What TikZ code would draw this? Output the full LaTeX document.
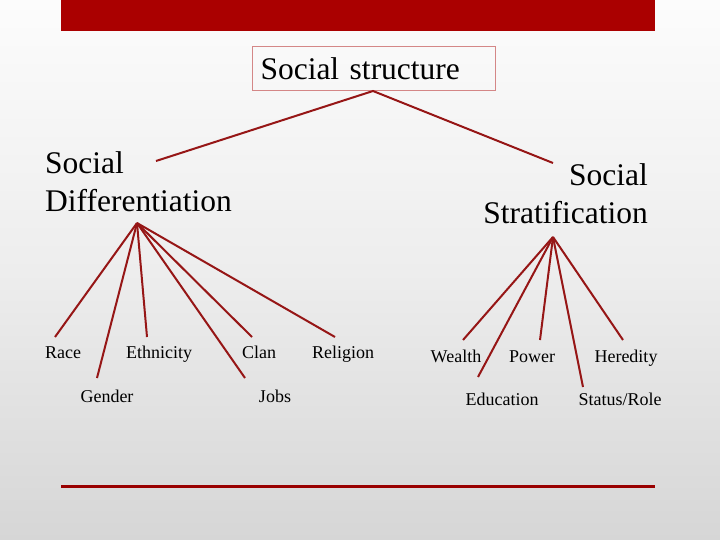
\documentclass[tikz,border=0pt]{standalone}
\usepackage{fontspec}
\setmainfont{Liberation Serif}
\definecolor{barred}{RGB}{170,0,0}
\definecolor{linered}{RGB}{150,22,22}
\definecolor{boxred}{RGB}{212,135,135}
\definecolor{bgtop}{RGB}{252,252,252}
\definecolor{bgbot}{RGB}{214,214,214}
\tikzset{
  big/.style={font=\fontsize{31.5}{38}\selectfont, inner sep=0pt},
  small/.style={font=\fontsize{18}{21}\selectfont, inner sep=0pt, anchor=base},
  fan/.style={draw=linered, line width=2pt},
}
\begin{document}
\begin{tikzpicture}[x=1pt,y=-1pt]
\useasboundingbox (0,0) rectangle (720,540);
\shade[top color=bgtop, bottom color=bgbot, middle color=white!93!black] (0,0) rectangle (720,540);
% top bar
\fill[barred] (61,0) rectangle (655,31);
% title
\node (title) [draw=boxred, line width=1pt, anchor=north west, minimum width=243pt, minimum height=44pt,
  text width=227pt, inner xsep=8pt, align=left, font=\fontsize{31.5}{38}\selectfont] at (252,46) {Social structure};
% main categories
\node (diff) [big, anchor=north west, align=left] at (45,151) {Social\\Differentiation};
\node (strat) [big, anchor=north east, align=right] at (648,163) {Social\\Stratification};
% fan points
\coordinate (top) at (373,91);
\coordinate (diffL) at (156,161);
\coordinate (stratR) at (553,163);
\coordinate (fa) at (137,223);
\coordinate (fb) at (553,237);
% left labels
\node (race) [small] at (63,358) {Race};
\node (eth) [small] at (159,358) {Ethnicity};
\node (clan) [small] at (259,358) {Clan};
\node (rel) [small] at (343,358) {Religion};
\node (gen) [small] at (107,402) {Gender};
\node (jobs) [small] at (275,402) {Jobs};
% right labels
\node (wea) [small] at (456,362) {Wealth};
\node (pow) [small] at (532,362) {Power};
\node (her) [small] at (626,362) {Heredity};
\node (edu) [small] at (502,405) {Education};
\node (sta) [small] at (620,405) {Status/Role};
% line ends
\coordinate (eRace) at (55,337);
\coordinate (eGen) at (97,378);
\coordinate (eEth) at (147,337);
\coordinate (eJobs) at (245,378);
\coordinate (eClan) at (252,337);
\coordinate (eRel) at (335,337);
\coordinate (eWea) at (463,340);
\coordinate (eEdu) at (478,377);
\coordinate (ePow) at (540,340);
\coordinate (eSta) at (583,387);
\coordinate (eHer) at (623,340);
% connectors
\draw[fan] (diffL) -- (top) -- (stratR);
\foreach \e in {eRace,eGen,eEth,eJobs,eClan,eRel} \draw[fan] (fa) -- (\e);
\foreach \e in {eWea,eEdu,ePow,eSta,eHer} \draw[fan] (fb) -- (\e);
% bottom line
\draw[draw=barred!90!black, line width=3pt] (61,486) -- (655,486);
\end{tikzpicture}
\end{document}
